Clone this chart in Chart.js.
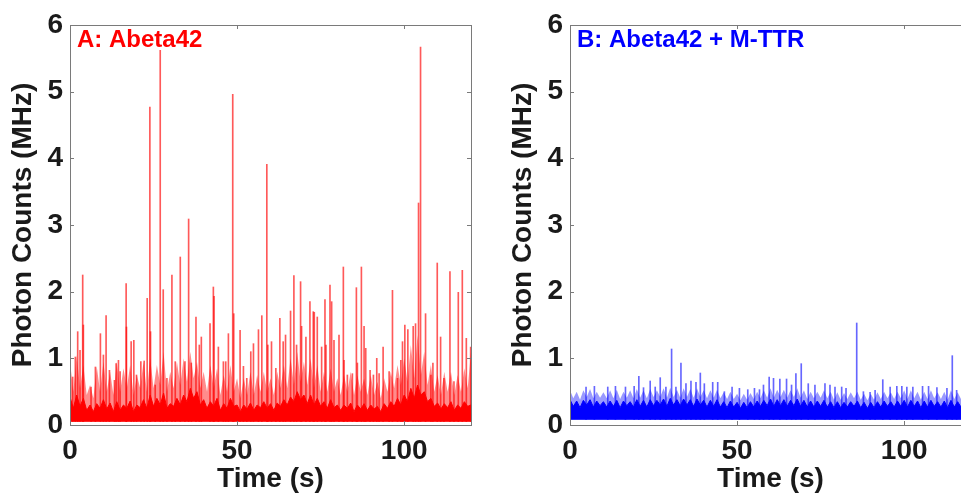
<!DOCTYPE html>
<html>
<head>
<meta charset="utf-8">
<script src="https://cdn.jsdelivr.net/npm/chart.js@4.4.1/dist/chart.umd.min.js"></script>
<style>
  html, body { margin: 0; padding: 0; background: #fff; overflow: hidden; width: 961px; height: 496px; }
  .panel { position: absolute; top: 0; }
  #panelA { left: 0; }
  #panelB { left: 490px; }
</style>
</head>
<body>
<div class="panel" id="panelA"><canvas id="chartA" width="490" height="496"></canvas></div>
<div class="panel" id="panelB"><canvas id="chartB" width="490" height="496"></canvas></div>
<script>
// axis ticks
const xTickValues = [0, 50, 100];
const yTickValues = [0, 1, 2, 3, 4, 5, 6];

// noise band, one sample per second (0..120 s)
const bandStep = 1;
const baseA = 0.05;
const denseA = [
  0.42, 0.25, 0.45, 0.28, 0.4, 0.22, 0.3, 0.2, 0.32, 0.25, 0.38,
  0.24, 0.33, 0.2, 0.35, 0.22, 0.3, 0.25, 0.36, 0.2, 0.3,
  0.26, 0.38, 0.25, 0.45, 0.28, 0.4, 0.3, 0.48, 0.25, 0.32,
  0.28, 0.4, 0.3, 0.45, 0.35, 0.55, 0.4, 0.5, 0.3, 0.38,
  0.25, 0.35, 0.28, 0.4, 0.22, 0.32, 0.25, 0.4, 0.28, 0.3,
  0.2, 0.3, 0.24, 0.33, 0.22, 0.3, 0.26, 0.35, 0.25, 0.32,
  0.22, 0.33, 0.28, 0.38, 0.3, 0.42, 0.35, 0.5, 0.38, 0.45,
  0.32, 0.45, 0.3, 0.4, 0.28, 0.35, 0.25, 0.38, 0.26, 0.3,
  0.22, 0.3, 0.25, 0.33, 0.2, 0.3, 0.24, 0.32, 0.22, 0.3,
  0.24, 0.28, 0.2, 0.32, 0.25, 0.35, 0.28, 0.4, 0.3, 0.45,
  0.35, 0.55, 0.4, 0.6, 0.45, 0.5, 0.35, 0.4, 0.28, 0.33,
  0.24, 0.32, 0.26, 0.35, 0.22, 0.3, 0.25, 0.35, 0.28, 0.3
];
const lightA = [
  0.95, 0.5, 1.05, 0.55, 0.9, 0.45, 0.6, 0.4, 0.88, 0.5, 0.95,
  0.5, 0.8, 0.45, 0.95, 0.5, 0.85, 0.55, 0.9, 0.45, 0.75,
  0.55, 0.95, 0.5, 1.0, 0.55, 0.9, 0.6, 1.1, 0.5, 0.8,
  0.55, 0.95, 0.6, 1.0, 0.65, 1.1, 0.7, 0.95, 0.55, 0.8,
  0.5, 0.9, 0.55, 0.85, 0.45, 0.75, 0.5, 0.9, 0.5, 0.7,
  0.4, 0.7, 0.45, 0.8, 0.45, 0.75, 0.5, 0.8, 0.5, 0.7,
  0.45, 0.8, 0.55, 0.9, 0.55, 1.0, 0.6, 1.1, 0.65, 0.95,
  0.6, 1.0, 0.55, 0.9, 0.5, 0.8, 0.5, 0.85, 0.5, 0.7,
  0.45, 0.75, 0.5, 0.8, 0.45, 0.75, 0.5, 0.7, 0.45, 0.75,
  0.45, 0.65, 0.4, 0.7, 0.5, 0.8, 0.55, 0.9, 0.6, 1.0,
  0.65, 1.2, 0.7, 1.35, 0.75, 1.1, 0.6, 0.9, 0.5, 0.75,
  0.45, 0.8, 0.5, 0.8, 0.45, 0.75, 0.5, 0.85, 0.55, 1.1
];

const baseB = 0.08;
const denseB = [
  0.38, 0.28, 0.36, 0.26, 0.37, 0.3, 0.38, 0.27, 0.36, 0.29, 0.35,
  0.27, 0.36, 0.28, 0.37, 0.26, 0.36, 0.29, 0.35, 0.27, 0.38,
  0.28, 0.37, 0.27, 0.38, 0.29, 0.37, 0.3, 0.39, 0.28, 0.4,
  0.3, 0.38, 0.29, 0.39, 0.3, 0.38, 0.28, 0.39, 0.3, 0.37,
  0.27, 0.37, 0.28, 0.38, 0.27, 0.35, 0.26, 0.36, 0.27, 0.34,
  0.25, 0.34, 0.26, 0.35, 0.27, 0.36, 0.28, 0.37, 0.29, 0.39,
  0.28, 0.38, 0.29, 0.38, 0.28, 0.37, 0.29, 0.39, 0.28, 0.37,
  0.27, 0.36, 0.27, 0.36, 0.28, 0.37, 0.27, 0.35, 0.26, 0.35,
  0.26, 0.34, 0.27, 0.35, 0.28, 0.36, 0.26, 0.34, 0.25, 0.34,
  0.26, 0.35, 0.27, 0.36, 0.28, 0.35, 0.27, 0.36, 0.28, 0.37,
  0.27, 0.37, 0.28, 0.36, 0.26, 0.36, 0.27, 0.37, 0.28, 0.35,
  0.27, 0.36, 0.26, 0.37, 0.27, 0.35, 0.27, 0.36, 0.26, 0.36
];
const lightB = [
  0.52, 0.4, 0.5, 0.38, 0.52, 0.42, 0.54, 0.4, 0.5, 0.41, 0.49,
  0.4, 0.52, 0.4, 0.53, 0.39, 0.5, 0.41, 0.52, 0.4, 0.54,
  0.41, 0.52, 0.4, 0.54, 0.42, 0.52, 0.42, 0.55, 0.41, 0.56,
  0.42, 0.53, 0.41, 0.55, 0.42, 0.54, 0.41, 0.55, 0.42, 0.52,
  0.4, 0.52, 0.41, 0.53, 0.4, 0.49, 0.39, 0.5, 0.39, 0.47,
  0.37, 0.47, 0.38, 0.48, 0.39, 0.5, 0.4, 0.52, 0.41, 0.55,
  0.41, 0.53, 0.42, 0.53, 0.41, 0.52, 0.42, 0.55, 0.41, 0.52,
  0.39, 0.5, 0.4, 0.5, 0.41, 0.52, 0.4, 0.5, 0.38, 0.49,
  0.38, 0.48, 0.39, 0.49, 0.4, 0.5, 0.38, 0.47, 0.37, 0.47,
  0.38, 0.49, 0.39, 0.5, 0.4, 0.49, 0.39, 0.5, 0.4, 0.52,
  0.39, 0.52, 0.4, 0.5, 0.38, 0.5, 0.39, 0.52, 0.4, 0.49,
  0.39, 0.5, 0.38, 0.52, 0.39, 0.49, 0.39, 0.5, 0.38, 0.5
];

// burst spikes: time (s) and peak (MHz)
const spikeTimesA = [
  0.8, 1.6, 2.3, 3.0, 3.8, 4.0, 6.3, 7.6, 9.1, 10.0, 10.8, 11.8, 13.3, 13.8, 14.5, 15.0,
  16.8, 16.9, 18.3, 19.1, 19.9, 21.2, 22.2, 23.1, 23.9, 24.1, 25.5, 27.0, 27.9, 29.0,
  30.5, 31.5, 33.0, 34.4, 35.5, 36.3, 37.7, 38.7, 39.3, 41.9, 42.9, 43.1, 44.4, 45.9,
  46.6, 47.4, 48.7, 49.0, 50.9, 51.9, 52.9, 54.1, 54.9, 56.4, 57.4, 58.9, 59.2, 60.3,
  61.6, 62.8, 63.8, 64.5, 66.0, 67.0, 67.8, 69.0, 69.3, 70.6, 71.8, 72.8, 73.1, 74.0,
  75.3, 76.3, 76.6, 77.8, 78.3, 79.0, 80.5, 81.8, 82.0, 83.0, 84.5, 85.7, 86.0, 87.2,
  88.0, 88.5, 89.8, 90.8, 91.8, 92.5, 93.7, 95.5, 96.5, 98.0, 99.0, 99.5, 100.2, 101.1,
  102.7, 103.4, 104.3, 104.9, 106.4, 108.0, 108.6, 109.9, 110.9, 111.9, 113.7, 114.9,
  116.2, 117.4, 118.6, 119.9
];
const spikeHeightsA = [
  0.72, 1.02, 1.40, 1.12, 2.25, 1.50, 0.57, 0.87, 1.37, 1.05, 1.64, 0.82, 0.67, 0.92, 0.97, 0.80,
  2.12, 1.47, 1.25, 1.27, 0.75, 0.95, 0.96, 1.90, 4.77, 1.40, 0.60, 5.62, 2.03, 0.70,
  2.25, 0.95, 2.52, 0.95, 3.09, 0.93, 1.62, 1.20, 1.32, 1.52, 2.07, 1.93, 1.17, 0.95,
  0.95, 1.37, 4.96, 1.67, 1.42, 0.88, 0.70, 1.10, 1.22, 1.43, 1.64, 3.91, 1.20, 1.25,
  0.85, 1.60, 1.25, 1.35, 1.71, 2.24, 1.20, 2.15, 1.48, 1.32, 1.85, 1.70, 1.69, 1.62,
  1.17, 1.88, 1.20, 2.10, 1.85, 1.27, 1.35, 2.37, 0.97, 0.75, 0.77, 2.06, 0.93, 2.37,
  1.48, 1.15, 0.82, 0.75, 1.00, 0.77, 1.17, 0.80, 2.02, 0.70, 0.97, 1.25, 1.50, 1.43,
  1.48, 1.52, 3.33, 5.67, 1.67, 0.75, 0.93, 2.43, 1.32, 0.70, 2.30, 0.65,
  1.99, 2.32, 1.30, 1.17
];

const spikeTimesB = [
  4.8, 7.3, 11.3, 13.6, 16.6, 19.2, 20.6, 22.0, 24.0, 25.5, 27.0, 28.7, 30.4, 31.7,
  33.2, 34.7, 36.2, 37.7, 39.0, 40.2, 42.7, 44.2, 46.2, 48.5, 50.7, 53.2, 55.2, 56.7,
  57.9, 59.6, 60.9, 62.8, 64.8, 66.3, 67.6, 69.2, 71.3, 73.3, 76.3, 77.8, 79.3, 81.3,
  82.6, 85.8, 87.8, 89.8, 91.3, 93.6, 95.8, 97.8, 99.3, 100.8, 102.6, 105.5, 107.3,
  109.8, 112.8, 114.4, 115.7, 117.5, 119.0
];
const spikeHeightsB = [
  0.57, 0.58, 0.57, 0.58, 0.57, 0.58, 0.73, 0.56, 0.66, 0.57, 0.71, 0.57, 1.14, 0.57,
  0.93, 0.62, 0.66, 0.64, 0.78, 0.62, 0.64, 0.64, 0.50, 0.57, 0.55, 0.53, 0.55, 0.53,
  0.60, 0.72, 0.70, 0.69, 0.69, 0.60, 0.77, 0.92, 0.62, 0.60, 0.62, 0.60, 0.57, 0.57,
  0.55, 1.53, 0.50, 0.49, 0.52, 0.68, 0.57, 0.58, 0.58, 0.57, 0.57, 0.58, 0.58,
  0.56, 0.55, 1.04, 0.52, 0.55, 0.58
];

const FONT = "'Liberation Sans', Arial, Helvetica, sans-serif";
const INK = '#1a1a1a';
const FRAME = '#7a7a7a';

// plot frame with inward tick marks, like the original axes box
const framePlugin = {
  id: 'frame',
  afterDatasetsDraw(chart) {
    const { ctx, chartArea: a, scales } = chart;
    ctx.save();
    ctx.strokeStyle = FRAME;
    ctx.lineWidth = 1;
    ctx.strokeRect(Math.round(a.left) + 0.5, Math.round(a.top) + 0.5, Math.round(a.right - a.left), Math.round(a.bottom - a.top));
    ctx.beginPath();
    xTickValues.forEach(v => {
      const px = Math.round(scales.x.getPixelForValue(v)) + 0.5;
      ctx.moveTo(px, a.top); ctx.lineTo(px, a.top + 4);
      ctx.moveTo(px, a.bottom); ctx.lineTo(px, a.bottom - 4);
    });
    yTickValues.forEach(v => {
      const py = Math.round(scales.y.getPixelForValue(v)) + 0.5;
      ctx.moveTo(a.left, py); ctx.lineTo(a.left + 4, py);
      ctx.moveTo(a.right, py); ctx.lineTo(a.right - 4, py);
    });
    ctx.stroke();
    ctx.restore();
  }
};

// panel caption inside the top-left corner
const captionPlugin = {
  id: 'caption',
  afterDraw(chart, args, opts) {
    const { ctx, chartArea: a } = chart;
    ctx.save();
    ctx.font = `bold 24px ${FONT}`;
    ctx.fillStyle = opts.color;
    ctx.textBaseline = 'alphabetic';
    ctx.fillText(opts.text, a.left + 7, a.top + 22);
    ctx.restore();
  }
};

function makeChart(canvasId, o) {
  const band = vals => vals.map((y, i) => ({ x: i * bandStep, y }));
  new Chart(document.getElementById(canvasId), {
    type: 'line',
    data: {
      datasets: [
        {
          type: 'bar',
          data: o.spikeTimes.map((t, i) => ({ x: t, y: [o.base, o.spikeHeights[i]] })),
          backgroundColor: o.spikeColor,
          barThickness: 1,
          grouped: false,
          order: 3
        },
        {
          data: band(o.light),
          borderWidth: 0,
          backgroundColor: o.lightColor,
          fill: { value: o.base },
          pointRadius: 0,
          tension: 0,
          order: 2
        },
        {
          data: band(o.dense),
          borderColor: o.color,
          borderWidth: 1,
          backgroundColor: o.color,
          fill: { value: o.base },
          pointRadius: 0,
          tension: 0,
          order: 1
        }
      ]
    },
    options: {
      responsive: false,
      animation: false,
      layout: { padding: { left: 0, right: o.padRight, top: 25, bottom: 0 } },
      plugins: {
        legend: { display: false },
        tooltip: { enabled: false },
        caption: { text: o.caption, color: o.color }
      },
      scales: {
        x: {
          type: 'linear',
          min: 0,
          max: 120,
          offset: false,
          afterBuildTicks: s => { s.ticks = xTickValues.map(value => ({ value })); },
          afterFit: s => { s.height = 71; },
          grid: { display: false, drawTicks: false },
          border: { display: false },
          ticks: { color: INK, padding: 9, font: { family: FONT, size: 28, weight: 'bold' } },
          title: {
            display: true,
            text: 'Time (s)',
            color: INK,
            padding: { top: 0, bottom: 0 },
            font: { family: FONT, size: 28, weight: 'bold' }
          }
        },
        y: {
          min: 0,
          max: 6,
          afterBuildTicks: s => { s.ticks = yTickValues.map(value => ({ value })); },
          afterFit: s => { s.width = o.yWidth; },
          grid: { display: false, drawTicks: false },
          border: { display: false },
          ticks: { color: INK, padding: 7, font: { family: FONT, size: 28, weight: 'bold' } },
          title: {
            display: true,
            text: 'Photon Counts (MHz)',
            color: INK,
            padding: { top: o.titlePad, bottom: 0 },
            font: { family: FONT, size: 28, weight: 'bold' }
          }
        }
      }
    },
    plugins: [framePlugin, captionPlugin]
  });
}

makeChart('chartA', {
  caption: 'A: Abeta42',
  color: '#ff0000',
  lightColor: 'rgba(255, 0, 0, 0.45)',
  spikeColor: 'rgba(255, 0, 0, 0.65)',
  base: baseA, dense: denseA, light: lightA,
  spikeTimes: spikeTimesA, spikeHeights: spikeHeightsA,
  yWidth: 70, padRight: 19, titlePad: 6
});

makeChart('chartB', {
  caption: 'B: Abeta42 + M-TTR',
  color: '#0000ff',
  lightColor: 'rgba(0, 0, 255, 0.4)',
  spikeColor: 'rgba(0, 0, 255, 0.6)',
  base: baseB, dense: denseB, light: lightB,
  spikeTimes: spikeTimesB, spikeHeights: spikeHeightsB,
  yWidth: 80, padRight: 9, titlePad: 16
});
</script>
</body>
</html>
